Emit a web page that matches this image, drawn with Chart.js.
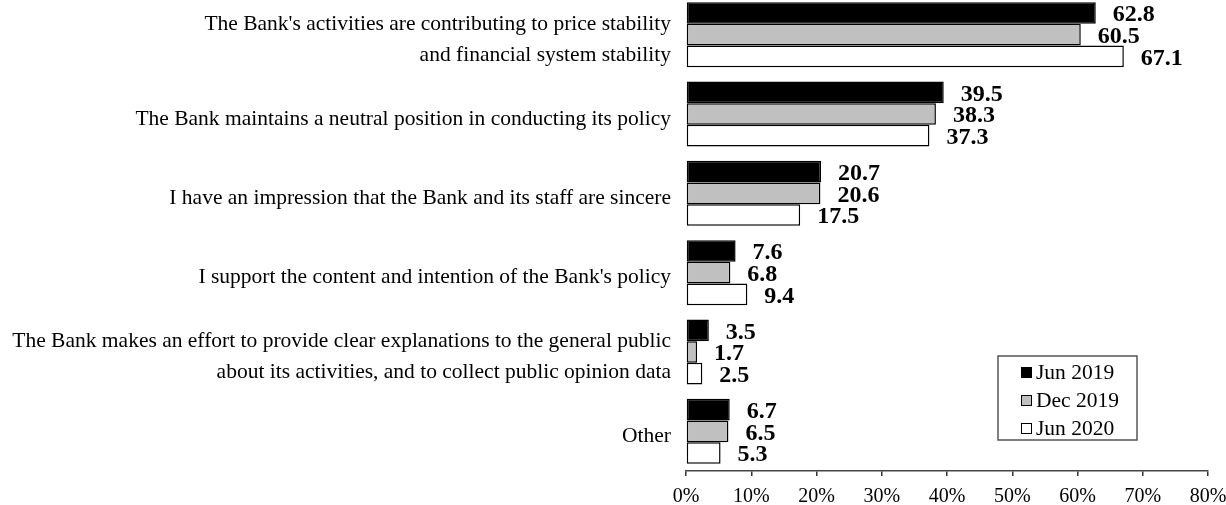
<!DOCTYPE html>
<html>
<head>
<meta charset="utf-8">
<script src="https://cdn.jsdelivr.net/npm/chart.js@4/dist/chart.umd.min.js"></script>
<style>
  html, body { margin: 0; padding: 0; background: #fff; overflow: hidden; }
  #wrap { position: relative; width: 1226px; height: 505px; overflow: hidden; }
  #box { position: absolute; left: 0; top: -5px; width: 1226px; height: 510px; }
</style>
</head>
<body>
<div id="wrap"><div id="box"><canvas id="c"></canvas></div></div>
<script>
const reasons = [
  ["The Bank's activities are contributing to price stability", "and financial system stability"],
  "The Bank maintains a neutral position in conducting its policy",
  "I have an impression that the Bank and its staff are sincere",
  "I support the content and intention of the Bank's policy",
  ["The Bank makes an effort to provide clear explanations to the general public", "about its activities, and to collect public opinion data"],
  "Other"
]
const jun2019 = [62.8, 39.5, 20.7, 7.6, 3.5, 6.7]
const dec2019 = [60.5, 38.3, 20.6, 6.8, 1.7, 6.5]
const jun2020 = [67.1, 37.3, 17.5, 9.4, 2.5, 5.3]
const surveyNames = ["Jun 2019", "Dec 2019", "Jun 2020"]
const xTicks = [0, 10, 20, 30, 40, 50, 60, 70, 80]

const serif = "'Liberation Serif', 'Times New Roman', serif"

// value labels to the right of each bar
const valueLabels = {
  id: 'valueLabels',
  afterDatasetsDraw(chart) {
    const ctx = chart.ctx
    ctx.save()
    ctx.font = "bold 24px " + serif
    ctx.fillStyle = "#000"
    ctx.textAlign = "left"
    ctx.textBaseline = "middle"
    chart.data.datasets.forEach((ds, i) => {
      chart.getDatasetMeta(i).data.forEach((bar, j) => {
        ctx.fillText(ds.data[j].toFixed(1), bar.x + 17, bar.y + 2)
      })
    })
    ctx.restore()
  }
}

// boxed legend sitting inside the plot, lower right
const boxLegend = {
  id: 'boxLegend',
  afterDraw(chart) {
    const ctx = chart.ctx
    const left = 998, top = 361, w = 139, h = 84
    ctx.save()
    ctx.fillStyle = "#fff"
    ctx.fillRect(left, top, w, h)
    ctx.strokeStyle = "#555"
    ctx.lineWidth = 1.5
    ctx.strokeRect(left, top, w, h)
    ctx.font = "21.5px " + serif
    ctx.textBaseline = "middle"
    chart.data.datasets.forEach((ds, i) => {
      const y = top + 16 + i * 28
      ctx.fillStyle = ds.backgroundColor
      ctx.fillRect(left + 23, y - 5, 11, 11)
      ctx.strokeStyle = "#000"
      ctx.lineWidth = 1
      ctx.strokeRect(left + 23.5, y - 4.5, 10, 10)
      ctx.fillStyle = "#000"
      ctx.fillText(ds.label, left + 38, y + 1)
    })
    ctx.restore()
  }
}

const fills = ["#000000", "#c0c0c0", "#ffffff"]
const series = [jun2019, dec2019, jun2020]

const data = {
  labels: reasons,
  datasets: series.map((d, i) => ({
    label: surveyNames[i],
    data: d,
    backgroundColor: fills[i],
    borderColor: "#000",
    borderWidth: 1.5,
    borderSkipped: false,
    barPercentage: 1,
    categoryPercentage: 0.82
  }))
}

new Chart(document.getElementById('c'), {
  type: 'bar',
  data: data,
  plugins: [valueLabels, boxLegend],
  options: {
    indexAxis: 'y',
    responsive: true,
    maintainAspectRatio: false,
    animation: false,
    layout: { padding: 0 },
    plugins: {
      legend: { display: false },
      tooltip: { enabled: false }
    },
    scales: {
      x: {
        min: 0,
        max: 80,
        afterBuildTicks(scale) {
          scale.ticks = xTicks.map(v => ({ value: v }))
        },
        afterFit(scale) {
          scale.height = 34
          scale.paddingLeft = 0
          scale.paddingRight = 18
        },
        grid: {
          display: true,
          drawOnChartArea: false,
          drawTicks: true,
          tickLength: 5,
          color: "#333",
          lineWidth: 1.5
        },
        border: { display: true, color: "#444", width: 1.5 },
        ticks: {
          color: "#000",
          font: { family: serif, size: 20 },
          padding: 9,
          maxRotation: 0,
          callback: v => v + "%"
        }
      },
      y: {
        afterFit(scale) {
          scale.width = 686
          scale.paddingTop = 0
          scale.paddingBottom = 0
        },
        grid: { display: false, drawTicks: false },
        border: { display: false },
        ticks: {
          color: "#000",
          font: { family: serif, size: 21.5, lineHeight: 1.45 },
          padding: 15,
          labelOffset: 5
        }
      }
    }
  }
})
</script>
</body>
</html>
